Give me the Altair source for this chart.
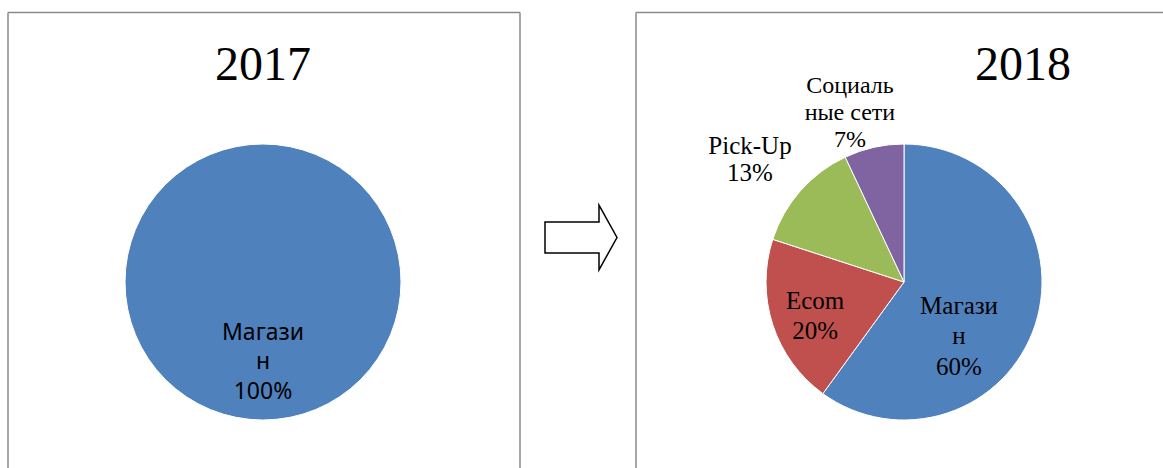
import altair as alt
import pandas as pd

# ---- data ----
years = ["2017", "2018"]
categories = ["Магазин", "Ecom", "Pick-Up", "Социальные сети"]
label_lines = ["Магази\nн", "Ecom", "Pick-Up", "Социаль\nные сети"]
values_2017 = [100, 0, 0, 0]
values_2018 = [60, 20, 13, 7]
colors = ["#4F81BD", "#C0504D", "#9BBB59", "#8064A2"]


def table(vals):
    rows = []
    for i, (c, l, v) in enumerate(zip(categories, label_lines, vals)):
        if v > 0:
            rows.append({"category": c, "idx": i, "value": v, "label": f"{l}\n{v}%"})
    return pd.DataFrame(rows)


df17 = table(values_2017)
df18 = table(values_2018)

theta_scale = alt.Scale(domain=[0, 100])
color_enc = alt.Color("category:N", scale=alt.Scale(domain=categories, range=colors), legend=None)

R = 138
C17 = (263, 282)
C18 = (904, 282)


def pie(df, center):
    return alt.Chart(df).mark_arc(radius=R, stroke="white", strokeWidth=1).encode(
        theta=alt.Theta("value:Q", stack=True, scale=theta_scale),
        color=color_enc,
        order=alt.Order("idx:Q"),
        x=alt.value(center[0]),
        y=alt.value(center[1]),
    )


def label(df, center, cat, radius, dx, dy, font, size, lh, nlines):
    # first line sits at the anchor: shift the block up so it is centred
    dy_c = dy - (nlines - 1) * lh / 2
    return (
        alt.Chart(df)
        .transform_window(cum="sum(value)", sort=[alt.SortField("idx")])
        .transform_calculate(mid="datum.cum - datum.value / 2")
        .transform_filter(alt.datum.category == cat)
        .mark_text(radius=radius, dx=dx, dy=dy_c, font=font, fontSize=size,
                   lineHeight=lh, lineBreak="\n", color="black", align="center", baseline="middle")
        .encode(
            theta=alt.Theta("mid:Q", stack=False, scale=theta_scale),
            text="label:N",
            x=alt.value(center[0]),
            y=alt.value(center[1]),
        )
    )


blank = alt.Data(values=[{}])
border_color = "#8a8a8a"


def rule(x, y, x2, y2):
    return alt.Chart(blank).mark_rule(color=border_color, strokeWidth=1.5).encode(
        x=alt.value(x), y=alt.value(y), x2=alt.value(x2), y2=alt.value(y2)
    )


def title(txt, x):
    return alt.Chart(blank).mark_text(font="Liberation Serif", fontSize=48, color="black",
                                      align="center", baseline="alphabetic").encode(
        x=alt.value(x), y=alt.value(80), text=alt.value(txt)
    )


arrow_path = "M -1 -0.43 L 0.5 -0.43 L 0.5 -0.9 L 1 0 L 0.5 0.9 L 0.5 0.43 L -1 0.43 Z"
arrow = alt.Chart(blank).mark_point(shape=arrow_path, size=5184, filled=True, fill="white",
                                    stroke="black", strokeWidth=1.5, opacity=1).encode(
    x=alt.value(581), y=alt.value(237.5)
)

serif = "Liberation Serif"
sans = "Noto Sans"

layers = [
    rule(8, 12.5, 520, 12.5),
    rule(8, 12.5, 8, 468),
    rule(520, 12.5, 520, 468),
    rule(636, 12.5, 1163, 12.5),
    rule(636, 12.5, 636, 468),
    title(years[0], 263),
    title(years[1], 1023),
    pie(df17, C17),
    pie(df18, C18),
    label(df17, C17, "Магазин", 80, 0, 0, sans, 23, 29.5, 3),
    label(df18, C18, "Магазин", 69, -10.6, 32.7, serif, 25, 30.5, 3),
    label(df18, C18, "Ecom", 95, 1.4, 4.6, serif, 25, 30.5, 2),
    label(df18, C18, "Pick-Up", 196.5, -6.6, 7.4, serif, 25, 27, 2),
    label(df18, C18, "Социальные сети", 176.8, -15.5, 3.6, serif, 24, 27, 3),
    arrow,
]

chart = (
    alt.layer(*layers)
    .properties(width=1163, height=468, padding=0, autosize=alt.AutoSizeParams(type="none"))
    .configure_view(strokeWidth=0)
)

chart.save("out.html", embed_options={"renderer": "svg", "actions": False})
